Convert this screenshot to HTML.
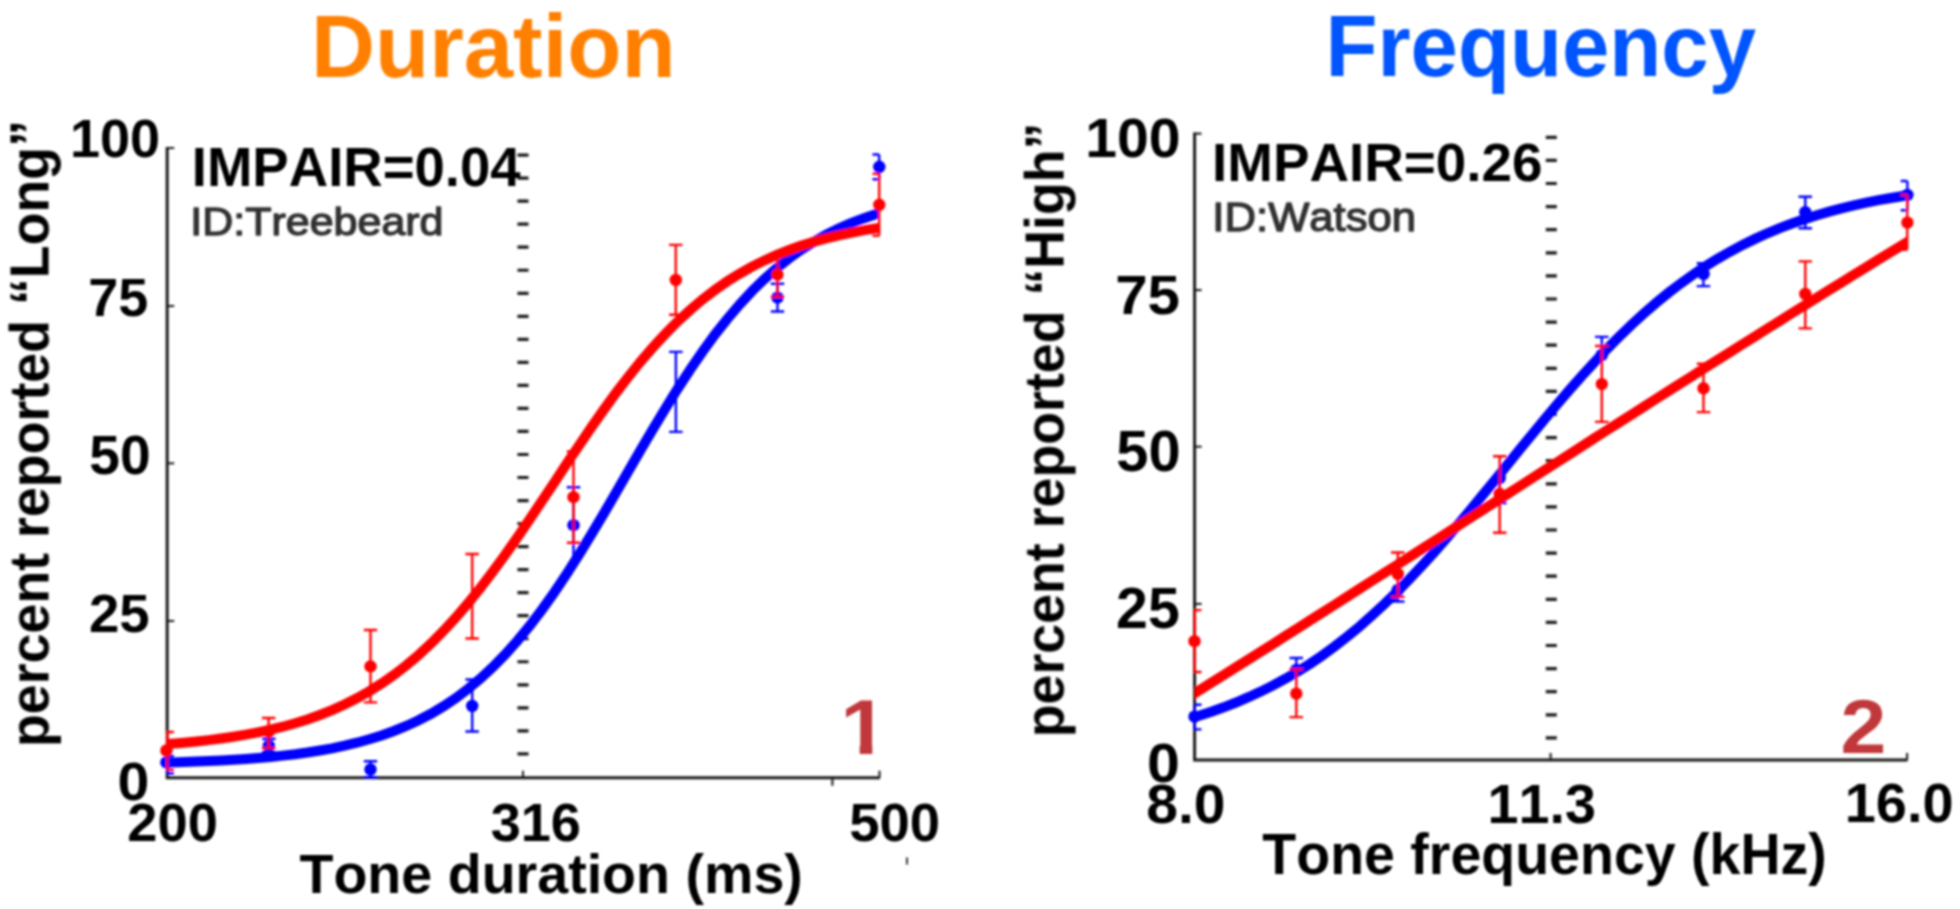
<!DOCTYPE html>
<html lang="en"><head><meta charset="utf-8"><title>Duration vs Frequency psychometric curves</title>
<style>html,body{margin:0;padding:0;background:#fff}body{width:1960px;height:909px;overflow:hidden}svg{display:block}text{font-family:"Liberation Sans",Arial,Helvetica,sans-serif;white-space:pre;font-kerning:none}</style></head><body>
<svg width="1960" height="909" viewBox="0 0 1960 909">
<rect width="1960" height="909" fill="#fff"/>
<filter id="soft" x="0" y="0" width="1960" height="909" filterUnits="userSpaceOnUse"><feGaussianBlur stdDeviation="0.9"/></filter>
<g filter="url(#soft)">
<g id="left-chart">
<clipPath id="clipL"><rect x="166.4" y="100" width="712.9" height="700"/></clipPath>
<text transform="translate(311.03,76.70) scale(1.0051,1)" font-size="88.26" font-weight="bold" fill="#ff8000">Duration</text>
<path d="M167.2,147.0V777.8H880.0" stroke="#1a1a1a" stroke-width="3" fill="none"/>
<path d="M167.2,148.0h7" stroke="#1a1a1a" stroke-width="2"/>
<path d="M167.2,306.0h7" stroke="#1a1a1a" stroke-width="2"/>
<path d="M167.2,463.3h7" stroke="#1a1a1a" stroke-width="2"/>
<path d="M167.2,621.0h7" stroke="#1a1a1a" stroke-width="2"/>
<path d="M523,777.8v-7M879.5,777.8v-7M832.4,777.8v8" stroke="#1a1a1a" stroke-width="2"/>
<path d="M523,153.5V760" stroke="#1a1a1a" stroke-width="11" stroke-dasharray="3.2 19.83" fill="none"/>
<path d="M167.2,756.0V773.3M167.2,756.0H173.9M167.2,773.3H173.9" stroke="#0000ff" stroke-width="2.4" fill="none"/>
<path d="M268.8,738.8V752.0M262.1,738.8H275.6M262.1,752.0H275.6" stroke="#0000ff" stroke-width="2.4" fill="none"/>
<path d="M370.5,761.3V777.3M363.8,761.3H377.2M363.8,777.3H377.2" stroke="#0000ff" stroke-width="2.4" fill="none"/>
<path d="M472.2,679.5V731.5M465.4,679.5H478.9M465.4,731.5H478.9" stroke="#0000ff" stroke-width="2.4" fill="none"/>
<path d="M573.5,487.3V556M566.75,487.3H580.25" stroke="#0000ff" stroke-width="2.4" fill="none"/>
<path d="M675.9,351.9V431.9M669.1,351.9H682.6M669.1,431.9H682.6" stroke="#0000ff" stroke-width="2.4" fill="none"/>
<path d="M777.5,283.7V311.5M770.8,283.7H784.2M770.8,311.5H784.2" stroke="#0000ff" stroke-width="2.4" fill="none"/>
<path d="M879.2,154.5V179.3M872.5,154.5H879.2M872.5,179.3H879.2" stroke="#0000ff" stroke-width="2.4" fill="none"/>
<circle cx="166.4" cy="762.4" r="6.2" fill="#0000ff"/>
<circle cx="268.8" cy="745.8" r="6.2" fill="#0000ff"/>
<circle cx="370.5" cy="769.5" r="6.2" fill="#0000ff"/>
<circle cx="472.2" cy="706.0" r="6.2" fill="#0000ff"/>
<circle cx="573.5" cy="525.2" r="6.2" fill="#0000ff"/>
<circle cx="777.5" cy="297.6" r="6.2" fill="#0000ff"/>
<circle cx="879.3" cy="166.8" r="6.2" fill="#0000ff"/>
<path d="M159.2,762.9 L171.6,762.5 L183.9,762.1 L196.3,761.6 L208.6,761.1 L221.0,760.5 L233.3,759.8 L245.7,759.0 L258.0,758.0 L270.4,756.9 L282.7,755.6 L295.1,754.2 L307.4,752.5 L319.8,750.5 L332.1,748.3 L344.5,745.7 L356.8,742.7 L369.2,739.3 L381.5,735.5 L393.9,731.0 L406.3,726.0 L418.6,720.3 L431.0,713.8 L443.3,706.4 L455.7,698.2 L468.0,688.9 L480.4,678.6 L492.7,667.2 L505.1,654.6 L517.4,640.7 L529.8,625.7 L542.1,609.5 L554.5,592.1 L566.8,573.7 L579.2,554.3 L591.5,534.1 L603.9,513.4 L616.2,492.2 L628.6,470.8 L640.9,449.5 L653.3,428.5 L665.7,408.0 L678.0,388.2 L690.4,369.2 L702.7,351.3 L715.1,334.4 L727.4,318.8 L739.8,304.3 L752.1,291.0 L764.5,279.0 L776.8,268.1 L789.2,258.3 L801.5,249.5 L813.9,241.7 L826.2,234.7 L838.6,228.6 L850.9,223.2 L863.3,218.4 L875.6,214.3 L888.0,210.6" stroke="#0000ff" stroke-width="10" fill="none" clip-path="url(#clipL)"/>
<path d="M167.2,732.0V769.8M167.2,732.0H173.9M167.2,769.8H173.9" stroke="#ff0000" stroke-width="2.4" fill="none"/>
<path d="M268.6,718.0V748.0M261.9,718.0H275.4M261.9,748.0H275.4" stroke="#ff0000" stroke-width="2.4" fill="none"/>
<path d="M370.5,630.0V702.4M363.8,630.0H377.2M363.8,702.4H377.2" stroke="#ff0000" stroke-width="2.4" fill="none"/>
<path d="M472.2,554.0V638.5M465.4,554.0H478.9M465.4,638.5H478.9" stroke="#ff0000" stroke-width="2.4" fill="none"/>
<path d="M573.5,451.5V542.8M566.8,451.5H580.2M566.8,542.8H580.2" stroke="#ff0000" stroke-width="2.4" fill="none"/>
<path d="M675.8,244.9V314.8M669.0,244.9H682.5M669.0,314.8H682.5" stroke="#ff0000" stroke-width="2.4" fill="none"/>
<path d="M777.5,255.0V296.7M770.8,255.0H784.2M770.8,296.7H784.2" stroke="#ff0000" stroke-width="2.4" fill="none"/>
<path d="M879.2,173.8V235.7M872.5,173.8H879.2M872.5,235.7H879.2" stroke="#ff0000" stroke-width="2.4" fill="none"/>
<circle cx="166.4" cy="750.5" r="6.2" fill="#ff0000"/>
<circle cx="268.8" cy="731.5" r="6.2" fill="#ff0000"/>
<circle cx="370.5" cy="666.4" r="6.2" fill="#ff0000"/>
<circle cx="573.5" cy="497.2" r="6.2" fill="#ff0000"/>
<circle cx="675.8" cy="280.0" r="6.2" fill="#ff0000"/>
<circle cx="777.5" cy="274.6" r="6.2" fill="#ff0000"/>
<circle cx="879.3" cy="204.8" r="6.2" fill="#ff0000"/>
<path d="M159.2,744.6 L171.6,743.7 L183.9,742.7 L196.3,741.5 L208.6,740.1 L221.0,738.5 L233.3,736.7 L245.7,734.7 L258.0,732.3 L270.4,729.7 L282.7,726.7 L295.1,723.3 L307.4,719.4 L319.8,715.0 L332.1,710.1 L344.5,704.5 L356.8,698.3 L369.2,691.3 L381.5,683.5 L393.9,674.9 L406.3,665.4 L418.6,655.0 L431.0,643.5 L443.3,631.1 L455.7,617.7 L468.0,603.3 L480.4,588.0 L492.7,571.8 L505.1,554.9 L517.4,537.3 L529.8,519.2 L542.1,500.8 L554.5,482.2 L566.8,463.6 L579.2,445.2 L591.5,427.1 L603.9,409.5 L616.2,392.6 L628.6,376.5 L640.9,361.2 L653.3,346.9 L665.7,333.5 L678.0,321.1 L690.4,309.7 L702.7,299.3 L715.1,289.9 L727.4,281.3 L739.8,273.6 L752.1,266.6 L764.5,260.4 L776.8,254.9 L789.2,250.0 L801.5,245.6 L813.9,241.8 L826.2,238.4 L838.6,235.4 L850.9,232.8 L863.3,230.4 L875.6,228.4 L888.0,226.6" stroke="#ff0000" stroke-width="10" fill="none" clip-path="url(#clipL)"/>
<text transform="translate(191.75,186.25) scale(0.9883,1)" font-size="55.21" font-weight="bold" fill="#000">IMPAIR=0.04</text>
<text transform="translate(190.33,235.00) scale(1.1066,1)" font-size="38.84" font-weight="normal" fill="#333" stroke="#333" stroke-width="1.4" stroke-linejoin="round" vector-effect="non-scaling-stroke">ID:Treebeard</text>
<text transform="translate(69.89,157.16) scale(1.0100,1)" font-size="53.52" font-weight="bold" fill="#000">100</text>
<text transform="translate(88.17,315.76) scale(1.0079,1)" font-size="53.52" font-weight="bold" fill="#000">75</text>
<text transform="translate(89.25,474.45) scale(0.9979,1)" font-size="55.21" font-weight="bold" fill="#000">50</text>
<text transform="translate(88.99,631.96) scale(1.0090,1)" font-size="54.08" font-weight="bold" fill="#000">25</text>
<text transform="translate(117.61,800.15) scale(1.0506,1)" font-size="54.51" font-weight="bold" fill="#000">0</text>
<text transform="translate(127.30,841.17) scale(1.0198,1)" font-size="53.24" font-weight="bold" fill="#000">200</text>
<text transform="translate(490.65,841.05) scale(0.9922,1)" font-size="54.51" font-weight="bold" fill="#000">316</text>
<text transform="translate(849.16,841.16) scale(1.0130,1)" font-size="53.80" font-weight="bold" fill="#000">500</text>
<text transform="translate(299.44,892.60) scale(0.9889,1)" font-size="56.23" font-weight="bold" fill="#000">Tone duration (ms)</text>
<text transform="translate(48.50,747.09) rotate(-90) scale(0.9837,1)" font-size="54.64" font-weight="bold" fill="#000">percent reported “Long”</text>
<clipPath id="one-clip"><path d="M838,690H872.3V755H859.7V744.6H838Z"/></clipPath>
<g clip-path="url(#one-clip)"><text transform="translate(840.15,753.8) scale(1.1,1)" font-size="78" font-weight="bold" fill="#c0393b">1</text></g>
<rect x="906" y="857.5" width="2" height="7" fill="#333"/>
</g>
<g id="right-chart">
<clipPath id="clipR"><rect x="1194.6" y="100" width="712.8" height="700"/></clipPath>
<text transform="translate(1325.46,76.20) scale(0.9793,1)" font-size="86.96" font-weight="bold" fill="#0055ff">Frequency</text>
<path d="M1194.6,132.6V760.1H1907.6" stroke="#1a1a1a" stroke-width="3" fill="none"/>
<path d="M1194.6,133.6h7" stroke="#1a1a1a" stroke-width="2"/>
<path d="M1194.6,290.1h7" stroke="#1a1a1a" stroke-width="2"/>
<path d="M1194.6,446.7h7" stroke="#1a1a1a" stroke-width="2"/>
<path d="M1194.6,603.9h7" stroke="#1a1a1a" stroke-width="2"/>
<path d="M1550.6,760.1v-7M1907.1,760.1v-7" stroke="#1a1a1a" stroke-width="2"/>
<path d="M1551.3,135.7V745" stroke="#1a1a1a" stroke-width="11" stroke-dasharray="3.2 19.9" fill="none"/>
<path d="M1194.8,704.7V729.4M1194.8,704.7H1201.5M1194.8,729.4H1201.5" stroke="#0000ff" stroke-width="2.4" fill="none"/>
<path d="M1296.3,658.0V672.0M1289.5,658.0H1303.0" stroke="#0000ff" stroke-width="2.4" fill="none"/>
<path d="M1397.8,590.0V601.5M1391.0,601.5H1404.5" stroke="#0000ff" stroke-width="2.4" fill="none"/>
<path d="M1499.7,478.0V503.0M1493.0,503.0H1506.5" stroke="#0000ff" stroke-width="2.4" fill="none"/>
<path d="M1601.8,336.9V352.0M1595.0,336.9H1608.5" stroke="#0000ff" stroke-width="2.4" fill="none"/>
<path d="M1703.4,263.2V286.1M1696.7,263.2H1710.2M1696.7,286.1H1710.2" stroke="#0000ff" stroke-width="2.4" fill="none"/>
<path d="M1805.3,196.7V228.3M1798.5,196.7H1812.0M1798.5,228.3H1812.0" stroke="#0000ff" stroke-width="2.4" fill="none"/>
<path d="M1907.4,181.0V210.2M1900.7,181.0H1907.4M1900.7,210.2H1907.4" stroke="#0000ff" stroke-width="2.4" fill="none"/>
<circle cx="1194.5" cy="716.7" r="6.2" fill="#0000ff"/>
<circle cx="1296.3" cy="670.0" r="6.2" fill="#0000ff"/>
<circle cx="1397.8" cy="590.0" r="6.2" fill="#0000ff"/>
<circle cx="1499.7" cy="478.0" r="6.2" fill="#0000ff"/>
<circle cx="1601.8" cy="355.0" r="6.2" fill="#0000ff"/>
<circle cx="1703.6" cy="274.0" r="6.2" fill="#0000ff"/>
<circle cx="1805.3" cy="212.2" r="6.2" fill="#0000ff"/>
<circle cx="1907.4" cy="194.9" r="6.2" fill="#0000ff"/>
<path d="M1186.6,719.3 L1199.0,715.7 L1211.3,711.7 L1223.7,707.3 L1236.0,702.5 L1248.4,697.2 L1260.7,691.6 L1273.1,685.4 L1285.4,678.7 L1297.8,671.5 L1310.2,663.7 L1322.5,655.3 L1334.9,646.3 L1347.2,636.7 L1359.6,626.5 L1371.9,615.6 L1384.3,604.2 L1396.7,592.2 L1409.0,579.6 L1421.4,566.4 L1433.7,552.8 L1446.1,538.7 L1458.4,524.3 L1470.8,509.5 L1483.1,494.5 L1495.5,479.4 L1507.9,464.1 L1520.2,448.9 L1532.6,433.8 L1544.9,418.8 L1557.3,404.1 L1569.6,389.8 L1582.0,375.8 L1594.3,362.3 L1606.7,349.3 L1619.1,336.8 L1631.4,324.9 L1643.8,313.6 L1656.1,302.9 L1668.5,292.8 L1680.8,283.4 L1693.2,274.5 L1705.5,266.3 L1717.9,258.6 L1730.3,251.5 L1742.6,244.9 L1755.0,238.9 L1767.3,233.3 L1779.7,228.2 L1792.0,223.5 L1804.4,219.2 L1816.8,215.2 L1829.1,211.6 L1841.5,208.4 L1853.8,205.4 L1866.2,202.7 L1878.5,200.2 L1890.9,198.0 L1903.2,196.0 L1915.6,194.2" stroke="#0000ff" stroke-width="10" fill="none" clip-path="url(#clipR)"/>
<path d="M1194.8,610.1V672.0M1194.8,610.1H1201.5M1194.8,672.0H1201.5" stroke="#ff0000" stroke-width="2.4" fill="none"/>
<path d="M1296.3,669.2V717.1M1289.5,669.2H1303.0M1289.5,717.1H1303.0" stroke="#ff0000" stroke-width="2.4" fill="none"/>
<path d="M1397.8,552.5V596.7M1391.0,552.5H1404.5M1391.0,596.7H1404.5" stroke="#ff0000" stroke-width="2.4" fill="none"/>
<path d="M1499.7,456.2V532.7M1493.0,456.2H1506.5M1493.0,532.7H1506.5" stroke="#ff0000" stroke-width="2.4" fill="none"/>
<path d="M1601.8,346.0V421.9M1595.0,346.0H1608.5M1595.0,421.9H1608.5" stroke="#ff0000" stroke-width="2.4" fill="none"/>
<path d="M1703.5,363.8V412.1M1696.8,363.8H1710.2M1696.8,412.1H1710.2" stroke="#ff0000" stroke-width="2.4" fill="none"/>
<path d="M1805.3,261.4V328.4M1798.5,261.4H1812.0M1798.5,328.4H1812.0" stroke="#ff0000" stroke-width="2.4" fill="none"/>
<path d="M1907.2,194.9V249.8M1900.5,194.9H1907.2M1900.5,249.8H1907.2" stroke="#ff0000" stroke-width="2.4" fill="none"/>
<circle cx="1194.5" cy="641.2" r="6.2" fill="#ff0000"/>
<circle cx="1296.3" cy="693.6" r="6.2" fill="#ff0000"/>
<circle cx="1397.8" cy="574.0" r="6.2" fill="#ff0000"/>
<circle cx="1499.7" cy="493.9" r="6.2" fill="#ff0000"/>
<circle cx="1601.8" cy="384.1" r="6.2" fill="#ff0000"/>
<circle cx="1703.5" cy="388.3" r="6.2" fill="#ff0000"/>
<circle cx="1805.3" cy="294.0" r="6.2" fill="#ff0000"/>
<circle cx="1907.4" cy="222.6" r="6.2" fill="#ff0000"/>
<path d="M1186.6,698.3 L1199.0,690.6 L1211.3,682.8 L1223.7,675.1 L1236.0,667.3 L1248.4,659.5 L1260.7,651.7 L1273.1,643.9 L1285.4,636.0 L1297.8,628.2 L1310.2,620.3 L1322.5,612.5 L1334.9,604.6 L1347.2,596.7 L1359.6,588.8 L1371.9,580.9 L1384.3,573.0 L1396.7,565.1 L1409.0,557.2 L1421.4,549.3 L1433.7,541.4 L1446.1,533.4 L1458.4,525.5 L1470.8,517.6 L1483.1,509.7 L1495.5,501.7 L1507.9,493.8 L1520.2,485.9 L1532.6,477.9 L1544.9,470.0 L1557.3,462.1 L1569.6,454.2 L1582.0,446.3 L1594.3,438.3 L1606.7,430.4 L1619.1,422.5 L1631.4,414.7 L1643.8,406.8 L1656.1,398.9 L1668.5,391.0 L1680.8,383.2 L1693.2,375.4 L1705.5,367.5 L1717.9,359.7 L1730.3,351.9 L1742.6,344.1 L1755.0,336.4 L1767.3,328.6 L1779.7,320.9 L1792.0,313.1 L1804.4,305.4 L1816.8,297.7 L1829.1,290.1 L1841.5,282.4 L1853.8,274.8 L1866.2,267.2 L1878.5,259.6 L1890.9,252.0 L1903.2,244.5 L1915.6,236.9" stroke="#ff0000" stroke-width="10" fill="none" clip-path="url(#clipR)"/>
<text transform="translate(1212.04,180.76) scale(1.0084,1)" font-size="54.37" font-weight="bold" fill="#000">IMPAIR=0.26</text>
<text transform="translate(1212.37,230.90) scale(1.0875,1)" font-size="40.14" font-weight="normal" fill="#333" stroke="#333" stroke-width="1.4" stroke-linejoin="round" vector-effect="non-scaling-stroke">ID:Watson</text>
<text transform="translate(1085.18,156.75) scale(1.0306,1)" font-size="55.49" font-weight="bold" fill="#000">100</text>
<text transform="translate(1115.18,314.35) scale(1.0581,1)" font-size="55.07" font-weight="bold" fill="#000">75</text>
<text transform="translate(1116.37,471.04) scale(1.0232,1)" font-size="56.48" font-weight="bold" fill="#000">50</text>
<text transform="translate(1116.10,627.64) scale(1.0134,1)" font-size="56.48" font-weight="bold" fill="#000">25</text>
<text transform="translate(1146.93,782.45) scale(1.0770,1)" font-size="54.93" font-weight="bold" fill="#000">0</text>
<text transform="translate(1146.29,822.54) scale(1.0254,1)" font-size="55.63" font-weight="bold" fill="#000">8.0</text>
<text transform="translate(1487.58,822.54) scale(1.0015,1)" font-size="55.63" font-weight="bold" fill="#000">11.3</text>
<text transform="translate(1844.76,822.35) scale(1.0103,1)" font-size="55.35" font-weight="bold" fill="#000">16.0</text>
<text transform="translate(1262.34,874.10) scale(0.9698,1)" font-size="57.25" font-weight="bold" fill="#000">Tone frequency (kHz)</text>
<text transform="translate(1063.60,737.29) rotate(-90) scale(0.9601,1)" font-size="55.94" font-weight="bold" fill="#000">percent reported “High”</text>
<text transform="translate(1840.62,753.40) scale(1.0754,1)" font-size="76.52" font-weight="bold" fill="#c0393b">2</text>
</g>
</g>
</svg></body></html>
